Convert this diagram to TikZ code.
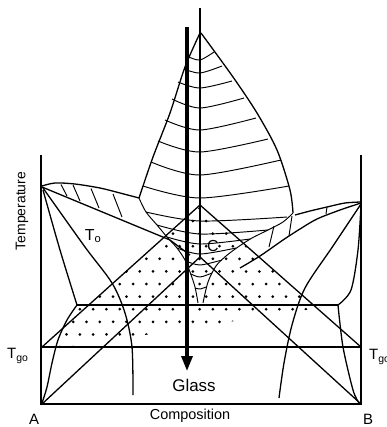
\documentclass[tikz,border=0pt]{standalone}
\usepackage{fontspec}
\setmainfont{Liberation Sans}
\usetikzlibrary{arrows.meta}
\begin{document}
\begin{tikzpicture}[x=1bp,y=-1bp,
  thinl/.style={line width=0.95bp},
  mainl/.style={line width=1.3bp},
  frame/.style={line width=1.6bp},
  lbl/.style={inner sep=0pt,font=\fontsize{14}{14}\selectfont}]
\useasboundingbox (0,0) rectangle (387,427);
% ---- dotted region ----
\begin{scope}
\clip plot[smooth] coordinates {(54.5,349) (58,340) (67,320) (77,305)} -- (87,305) -- (200,206) -- (313,305) -- (338,305)
   plot[smooth] coordinates {(338,305) (343,349)} -- cycle;
\foreach \k in {0,...,11}{
  \pgfmathsetmacro{\yy}{347-12.6*\k}
  \pgfmathsetmacro{\off}{mod(\k,2)*6.65}
  \foreach \j in {0,...,25}{
    \fill (20+13.3*\j+\off,\yy) circle (1.5bp);
  }
}
\end{scope}
% ---- frame ----
\draw[frame] (41,155) -- (41,404) -- (361,404) -- (361,155);
\draw[mainl] (41,347) -- (361,347);
\draw[mainl] (77,305) -- (338,305);
% ---- big triangles ----
\draw[mainl] (42,347) -- (200,205) -- (361,347);
\draw[mainl] (42,404) -- (200,257) -- (361,404);
% ---- left side curves ----
\draw[mainl] plot[smooth] coordinates {(42,186) (55,183) (75,184) (100,188) (120,193) (139,198)};
\draw[mainl] (42,187) -- (170,240) -- (190,255);
\draw[thinl] (61,184.5) -- (67,196) (73,185) -- (80,201) (91,188.5) -- (99,208) (113,194) -- (122,217);
\draw[mainl] plot[smooth] coordinates {(43,188) (85,247) (112,283) (125,313) (132,347) (133,395)};
\draw[mainl] plot[smooth] coordinates {(43,190) (60,250) (77,305)};
\draw[mainl] plot[smooth] coordinates {(77,305) (67,320) (58,340) (52,363) (47,387) (42,403)};
% ---- right side curves ----
\draw[mainl] plot[smooth] coordinates {(361,202) (345,203) (327,207) (310,211) (295,215)};
\draw[mainl] plot[smooth] coordinates {(361,203) (340,210) (317,219) (300,229) (283,240) (260,256) (240,268)};
\draw[thinl] (327,207) -- (326,214) (292,216) -- (289,236) (274,226) -- (269,247);
\draw[mainl] plot[smooth] coordinates {(361,204) (333,246) (305,288) (292,325) (284,363) (279,398)};
\draw[mainl] plot[smooth] coordinates {(361,205) (358,250) (351,290) (338,305)};
\draw[mainl] plot[smooth] coordinates {(338,305) (343,347) (353,390) (359,403)};
% ---- central leaf ----
\draw[mainl] plot[smooth] coordinates {(200,33) (185,67) (170,113) (153,157) (139,198)};
\draw[mainl] plot[smooth] coordinates {(201,33) (233,77) (257,113) (277,150) (290,190) (293,213)};
\draw[thinl] plot[smooth] coordinates {(139,198) (146,212) (157,225) (167,237) (177,248) (185,260) (190,272) (195,287) (198,303)};
\draw[thinl] plot[smooth] coordinates {(293,213) (283,222) (268,230) (252,238) (238,247) (226,256) (216,266) (208,282) (203,303)};
% tie lines
\foreach \a/\b/\c in {
  {(189,57)}/{(200,60)}/{(214,52)},
  {(184,69)}/{(200,73)}/{(222,66)},
  {(178,82)}/{(200,88)}/{(232,81)},
  {(172,99)}/{(200,108)}/{(244,98)},
  {(165,120)}/{(200,130)}/{(256,118)},
  {(158,141)}/{(200,152)}/{(268,139)},
  {(151,162)}/{(200,175)}/{(281,160)},
  {(143,186)}/{(200,198)}/{(289,186)},
  {(146,212)}/{(200,221)}/{(287,217)},
  {(157,225)}/{(200,234)}/{(268,230)},
  {(167,237)}/{(200,244)}/{(250,239)},
  {(177,248)}/{(200,254)}/{(236,248)},
  {(186,261)}/{(200,265)}/{(222,260)},
  {(191,274)}/{(200,277)}/{(212,273)},
  {(195,288)}/{(200,289)}/{(206,287)}}{
  \draw[thinl] plot[smooth] coordinates {\a \b \c};
}
% ---- verticals ----
\draw[line width=1.1bp] (200,8) -- (200,257);
\draw[line width=3.2bp,-{Triangle[length=15bp,width=11bp]}] (187,27) -- (187,371);
% ---- labels ----
\node[lbl,rotate=90] (temp) at (22,211) {Temperature};
\node[lbl,font=\fontsize{14.5}{14.5}\selectfont] (comp) at (190,416) {Composition};
\node[lbl,font=\fontsize{15}{15}\selectfont] (la) at (34,419.5) {A};
\node[lbl,font=\fontsize{15}{15}\selectfont] (lb) at (368,419.5) {B};
\node[lbl,font=\fontsize{17}{17}\selectfont] (glass) at (194,385) {Glass};
\node[lbl,font=\fontsize{16}{16}\selectfont] (to) at (93,236) {T\textsubscript{o}};
\node[lbl,font=\fontsize{15}{15}\selectfont,anchor=west] (tgl) at (7,356) {T\textsubscript{go}};
\node[lbl,font=\fontsize{15}{15}\selectfont,anchor=west] (tgr) at (369,357) {T\textsubscript{go}};
\node[lbl,font=\fontsize{16}{16}\selectfont] (cc) at (213,246) {C};
\end{tikzpicture}
\end{document}
